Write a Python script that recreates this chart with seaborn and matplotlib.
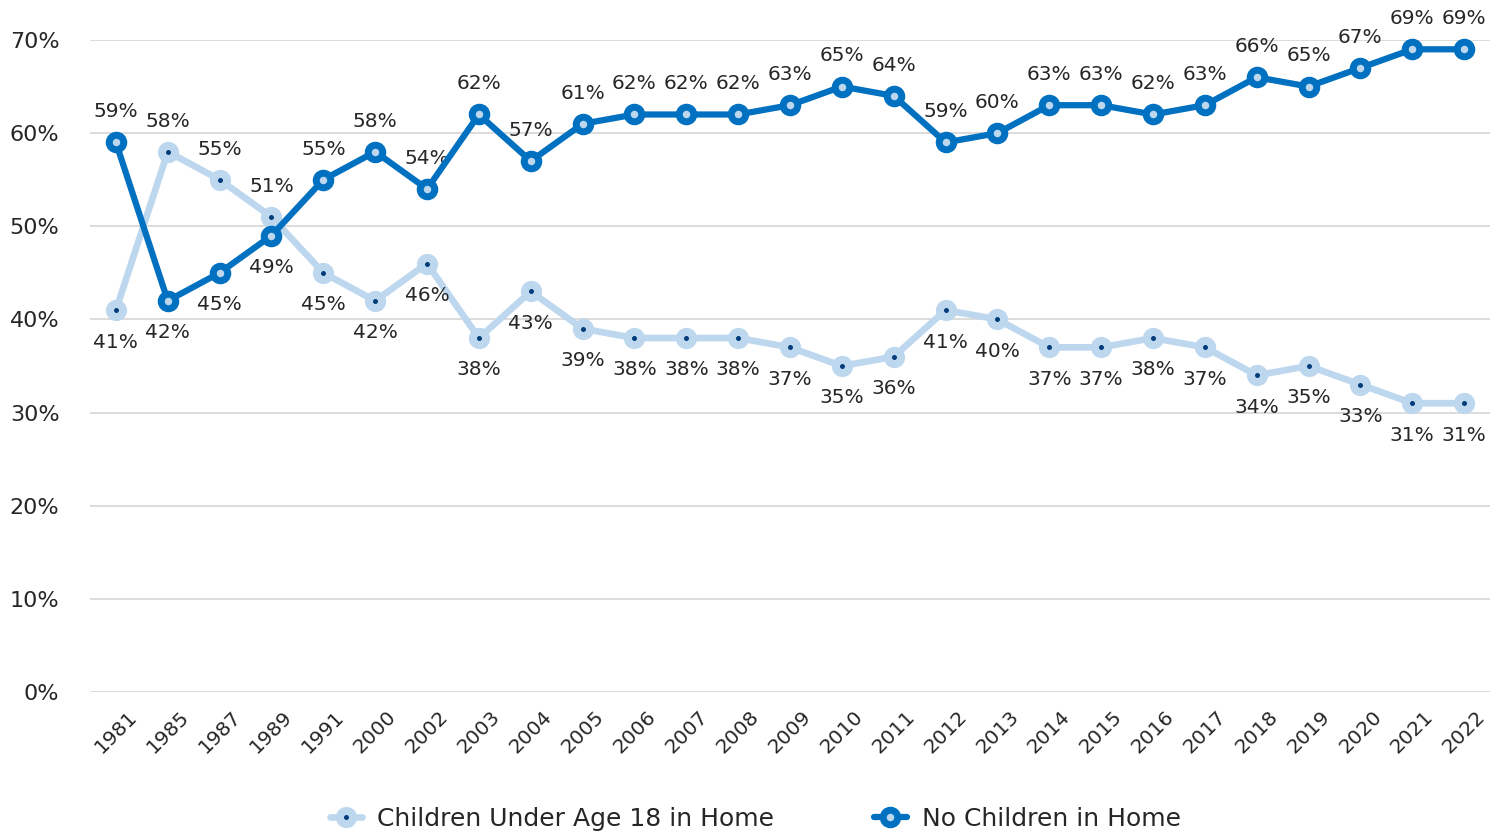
import matplotlib
matplotlib.use("Agg")
import matplotlib.pyplot as plt
import seaborn as sns
import pandas as pd

years = ["1981", "1985", "1987", "1989", "1991", "2000", "2002", "2003", "2004", "2005",
         "2006", "2007", "2008", "2009", "2010", "2011", "2012", "2013", "2014", "2015",
         "2016", "2017", "2018", "2019", "2020", "2021", "2022"]
children = [41, 58, 55, 51, 45, 42, 46, 38, 43, 39, 38, 38, 38, 37, 35, 36, 41, 40, 37, 37,
            38, 37, 34, 35, 33, 31, 31]
no_children = [59, 42, 45, 49, 55, 58, 54, 62, 57, 61, 62, 62, 62, 63, 65, 64, 59, 60, 63, 63,
               62, 63, 66, 65, 67, 69, 69]
series_names = ["Children Under Age 18 in Home", "No Children in Home"]
yticks = [0, 10, 20, 30, 40, 50, 60, 70]

sns.set_theme(style="white")
plt.rcParams["font.family"] = ["DejaVu Sans"]

LIGHT = "#bdd7ee"
DARK = "#0070c0"
NAVY = "#003d7a"
TXT = "#262626"

df = pd.DataFrame({"x": list(range(len(years))) * 2,
                   "value": children + no_children,
                   "series": [series_names[0]] * len(years) + [series_names[1]] * len(years)})

fig = plt.figure(figsize=(15.1, 8.33), dpi=100)
ax = fig.add_axes([0.0596, 0.1693, 0.9272, 0.7827])

sns.lineplot(data=df[df.series == series_names[0]], x="x", y="value", ax=ax,
             color=LIGHT, linewidth=4.8, marker="o", markersize=9.5,
             markerfacecolor=NAVY, markeredgecolor=LIGHT, markeredgewidth=5.8,
             label=series_names[0], zorder=3)
sns.lineplot(data=df[df.series == series_names[1]], x="x", y="value", ax=ax,
             color=DARK, linewidth=4.5, marker="o", markersize=10.5,
             markerfacecolor=LIGHT, markeredgecolor=DARK, markeredgewidth=5.0,
             label=series_names[1], zorder=4)

for i in range(len(years)):
    c, n = children[i], no_children[i]
    for v, other in ((c, n), (n, c)):
        above = v >= other
        ax.annotate(f"{v}%", (i, v), xytext=(0, 22 if above else -23),
                    textcoords="offset points", ha="center",
                    va="center", fontsize=14.5, color=TXT)

ax.set_xlim(-0.5, len(years) - 0.5)
ax.set_ylim(0, 70)
ax.set_yticks(yticks)
ax.set_yticklabels([f"{t}%" for t in yticks], fontsize=16, color=TXT)
ax.set_xticks(range(len(years)))
ax.set_xticklabels(years, rotation=45, ha="center", va="center", rotation_mode="anchor",
                   fontsize=14.5, color=TXT)
ax.tick_params(axis="x", pad=29, length=0)
ax.tick_params(axis="y", pad=22, length=0)
ax.grid(axis="y", color="#d9d9d9", linewidth=1.3)
ax.set_axisbelow(True)
for s in ax.spines.values():
    s.set_visible(False)
ax.set_xlabel("")
ax.set_ylabel("")
for line in ax.lines:
    line.set_clip_on(False)

ax.legend(loc="center", bbox_to_anchor=(0.475, -0.195), ncol=2, frameon=False,
          fontsize=18, columnspacing=4.0, handlelength=1.3, handletextpad=0.6,
          labelcolor=TXT)

fig.savefig("out.png", dpi=100)
